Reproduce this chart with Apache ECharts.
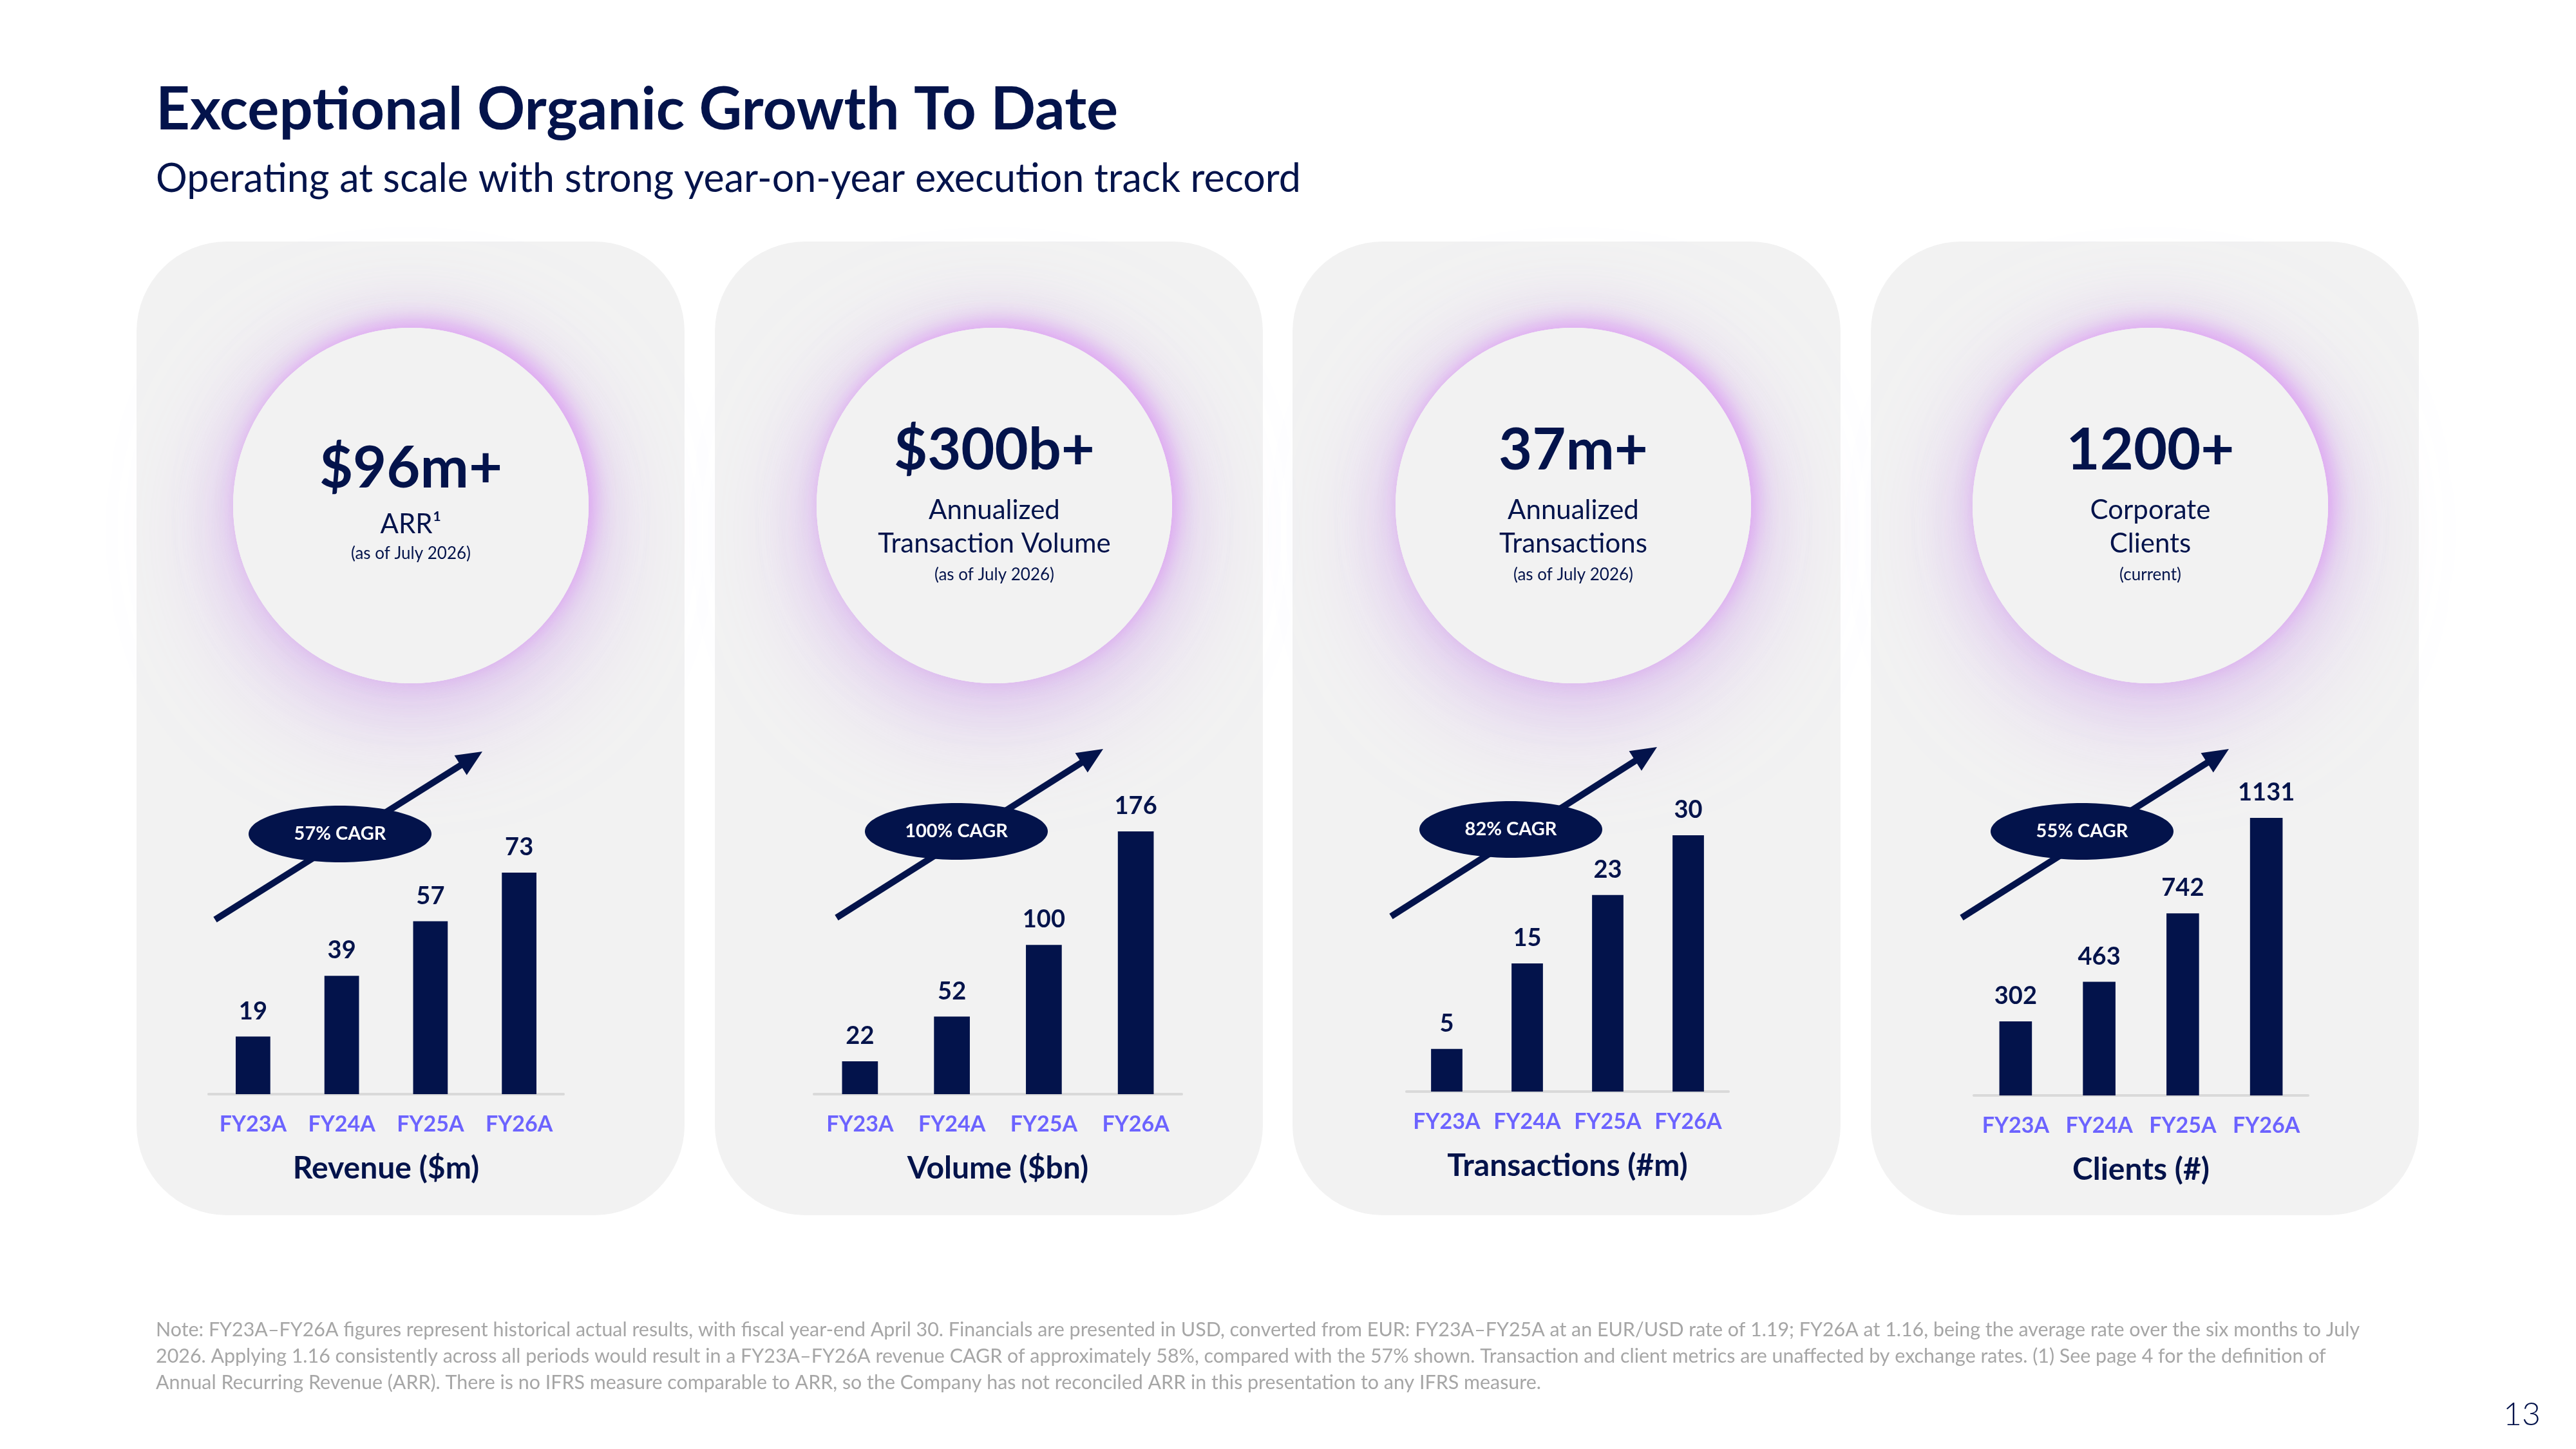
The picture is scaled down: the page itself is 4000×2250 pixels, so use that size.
<!DOCTYPE html>
<html>
<head>
<meta charset="utf-8">
<title>Exceptional Organic Growth To Date</title>
<script src="https://cdn.jsdelivr.net/npm/echarts@6/dist/echarts.min.js"></script>
<style>
  html, body { margin: 0; padding: 0; background: #ffffff; }
  #chart { width: 4000px; height: 2250px; }
</style>
</head>
<body>
<div id="chart"></div>
<script>
// ---- data ----
var categories = ['FY23A', 'FY24A', 'FY25A', 'FY26A'];
var revenue = [19, 39, 57, 73];
var volume = [22, 52, 100, 176];
var transactions = [5, 15, 23, 30];
var clients = [302, 463, 742, 1131];
var cagrLabels = ['57% CAGR', '100% CAGR', '82% CAGR', '55% CAGR'];
var axisNames = ['Revenue ($m)', 'Volume ($bn)', 'Transactions (#m)', 'Clients (#)'];
var headlines = ['$96m+', '$300b+', '37m+', '1200+'];
var captions = [['ARR\u00b9'], ['Annualized', 'Transaction Volume'], ['Annualized', 'Transactions'], ['Corporate', 'Clients']];
var captionNotes = ['(as of July 2026)', '(as of July 2026)', '(as of July 2026)', '(current)'];
var footnote = [
  'Note: FY23A\u2013FY26A figures represent historical actual results, with fiscal year-end April 30. Financials are presented in USD, converted from EUR: FY23A\u2013FY25A at an EUR/USD rate of 1.19; FY26A at 1.16, being the average rate over the six months to July',
  '2026. Applying 1.16 consistently across all periods would result in a FY23A\u2013FY26A revenue CAGR of approximately 58%, compared with the 57% shown. Transaction and client metrics are unaffected by exchange rates. (1) See page 4 for the definition of',
  'Annual Recurring Revenue (ARR). There is no IFRS measure comparable to ARR, so the Company has not reconciled ARR in this presentation to any IFRS measure.'
];
var seriesData = [revenue, volume, transactions, clients];

// ---- layout ----
var NAVY = '#03134b';
var LABEL = '#6c63ff';
var FONT = 'Lato';
var cardX = [212, 1110, 2007, 2905];
var cardW = 851, cardY = 375, cardH = 1512;
var circleX = [638, 1544, 2443, 3339], circleY = 785, circleR = 276;
var grids = [
  {left: 324, width: 551, top: 1355, height: 344},
  {left: 1264, width: 571, top: 1291, height: 408},
  {left: 2184, width: 500, top: 1297, height: 398},
  {left: 3065, width: 519, top: 1270, height: 431}
];
var arrows = [
  [[334, 1428], [749, 1167]],
  [[1299, 1425], [1713, 1163]],
  [[2160, 1423], [2573, 1160]],
  [[3046, 1425], [3461, 1163]]
];
var ovals = [[528, 1295], [1485, 1291], [2346, 1288], [3233, 1291]];

var chart = echarts.init(document.getElementById('chart'));
var graphic = [];

graphic.push({
  type: 'text', left: 242, top: 125, z: 10,
  style: {text: 'Exceptional Organic Growth To Date', fill: NAVY, font: 'bold 92px ' + FONT}
});
graphic.push({
  type: 'text', left: 242, top: 248, z: 10,
  style: {text: 'Operating at scale with strong year-on-year execution track record', fill: NAVY, font: '61px ' + FONT}
});

for (var i = 0; i < 4; i++) {
  graphic.push({
    type: 'rect', z: 1,
    shape: {x: cardX[i], y: cardY, width: cardW, height: cardH, r: 140},
    style: {fill: '#f2f2f2'}
  });
  // soft purple halo round the circle, stronger on the upper right
  graphic.push({
    type: 'circle', z: 2,
    shape: {cx: circleX[i], cy: circleY, r: circleR},
    style: {fill: '#f2f2f2', shadowBlur: 170, shadowColor: 'rgba(205,160,235,0.6)', shadowOffsetY: 40}
  });
  graphic.push({
    type: 'circle', z: 2,
    shape: {cx: circleX[i], cy: circleY, r: circleR},
    style: {fill: '#f2f2f2', shadowBlur: 90, shadowColor: 'rgba(210,160,240,0.4)'}
  });
  graphic.push({
    type: 'circle', z: 2,
    shape: {cx: circleX[i], cy: circleY, r: circleR},
    style: {fill: '#f2f2f2', shadowBlur: 30, shadowColor: 'rgba(215,120,245,0.5)', shadowOffsetX: 8, shadowOffsetY: -10}
  });
  graphic.push({
    type: 'circle', z: 2,
    shape: {cx: circleX[i], cy: circleY, r: circleR},
    style: {fill: '#f2f2f2'}
  });

  var first = i === 0;
  graphic.push({
    type: 'text', z: 3, x: circleX[i], y: first ? 728 : 700,
    style: {text: headlines[i], fill: NAVY, font: 'bold 90px ' + FONT, align: 'center', verticalAlign: 'middle'}
  });
  var cy = first ? 814 : 792;
  captions[i].forEach(function (c, k) {
    graphic.push({
      type: 'text', z: 3, x: circleX[i], y: cy + k * 52,
      style: {text: c, fill: NAVY, font: '42px ' + FONT, align: 'center', verticalAlign: 'middle'}
    });
  });
  graphic.push({
    type: 'text', z: 3, x: circleX[i], y: first ? 860 : 893,
    style: {text: captionNotes[i], fill: NAVY, font: '26px ' + FONT, align: 'center', verticalAlign: 'middle'}
  });

  // growth arrow
  var a = arrows[i][0], b = arrows[i][1];
  var dx = b[0] - a[0], dy = b[1] - a[1];
  var len = Math.sqrt(dx * dx + dy * dy), ux = dx / len, uy = dy / len;
  var headL = 40, headW = 18;
  var bx = b[0] - ux * headL, by = b[1] - uy * headL;
  graphic.push({
    type: 'line', z: 3,
    shape: {x1: a[0], y1: a[1], x2: bx + ux * 4, y2: by + uy * 4},
    style: {stroke: NAVY, lineWidth: 10}
  });
  graphic.push({
    type: 'polygon', z: 3,
    shape: {points: [[b[0], b[1]], [bx - uy * headW, by + ux * headW], [bx + uy * headW, by - ux * headW]]},
    style: {fill: NAVY}
  });
  graphic.push({
    type: 'ellipse', z: 4,
    shape: {cx: ovals[i][0], cy: ovals[i][1], rx: 142, ry: 44},
    style: {fill: NAVY}
  });
  graphic.push({
    type: 'text', z: 5, x: ovals[i][0], y: ovals[i][1],
    style: {text: cagrLabels[i], fill: '#ffffff', font: 'bold 29px ' + FONT, align: 'center', verticalAlign: 'middle'}
  });
}

footnote.forEach(function (line, k) {
  graphic.push({
    type: 'text', z: 10, left: 242, top: 2050 + k * 41,
    style: {text: line, fill: '#a6a6a6', font: '30.4px ' + FONT}
  });
});
graphic.push({
  type: 'text', z: 10, right: 55, top: 2172,
  style: {text: '13', fill: NAVY, font: '300 50px ' + FONT}
});

var option = {
  backgroundColor: '#ffffff',
  animation: false,
  textStyle: {fontFamily: FONT},
  graphic: graphic,
  grid: grids.map(function (g) { return {left: g.left, width: g.width, top: g.top, height: g.height, containLabel: false}; }),
  xAxis: grids.map(function (g, i) {
    return {
      type: 'category', gridIndex: i, data: categories, z: 6,
      axisLine: {lineStyle: {color: '#d9d9d9', width: 4}},
      axisTick: {show: false},
      axisLabel: {interval: 0, color: LABEL, fontWeight: 'bold', fontSize: 34, margin: 30, fontFamily: FONT},
      name: axisNames[i], nameLocation: 'middle', nameGap: 92,
      nameTextStyle: {color: NAVY, fontWeight: 'bold', fontSize: 48, fontFamily: FONT}
    };
  }),
  yAxis: grids.map(function (g, i) {
    return {type: 'value', gridIndex: i, min: 0, max: Math.max.apply(null, seriesData[i]), show: false};
  }),
  series: seriesData.map(function (d, i) {
    return {
      type: 'bar', xAxisIndex: i, yAxisIndex: i, data: d, z: 6,
      barWidth: '39%',
      itemStyle: {color: NAVY},
      label: {show: true, position: 'top', distance: 20, color: NAVY, fontWeight: 'bold', fontSize: 38, fontFamily: FONT}
    };
  })
};
chart.setOption(option);
</script>
</body>
</html>
